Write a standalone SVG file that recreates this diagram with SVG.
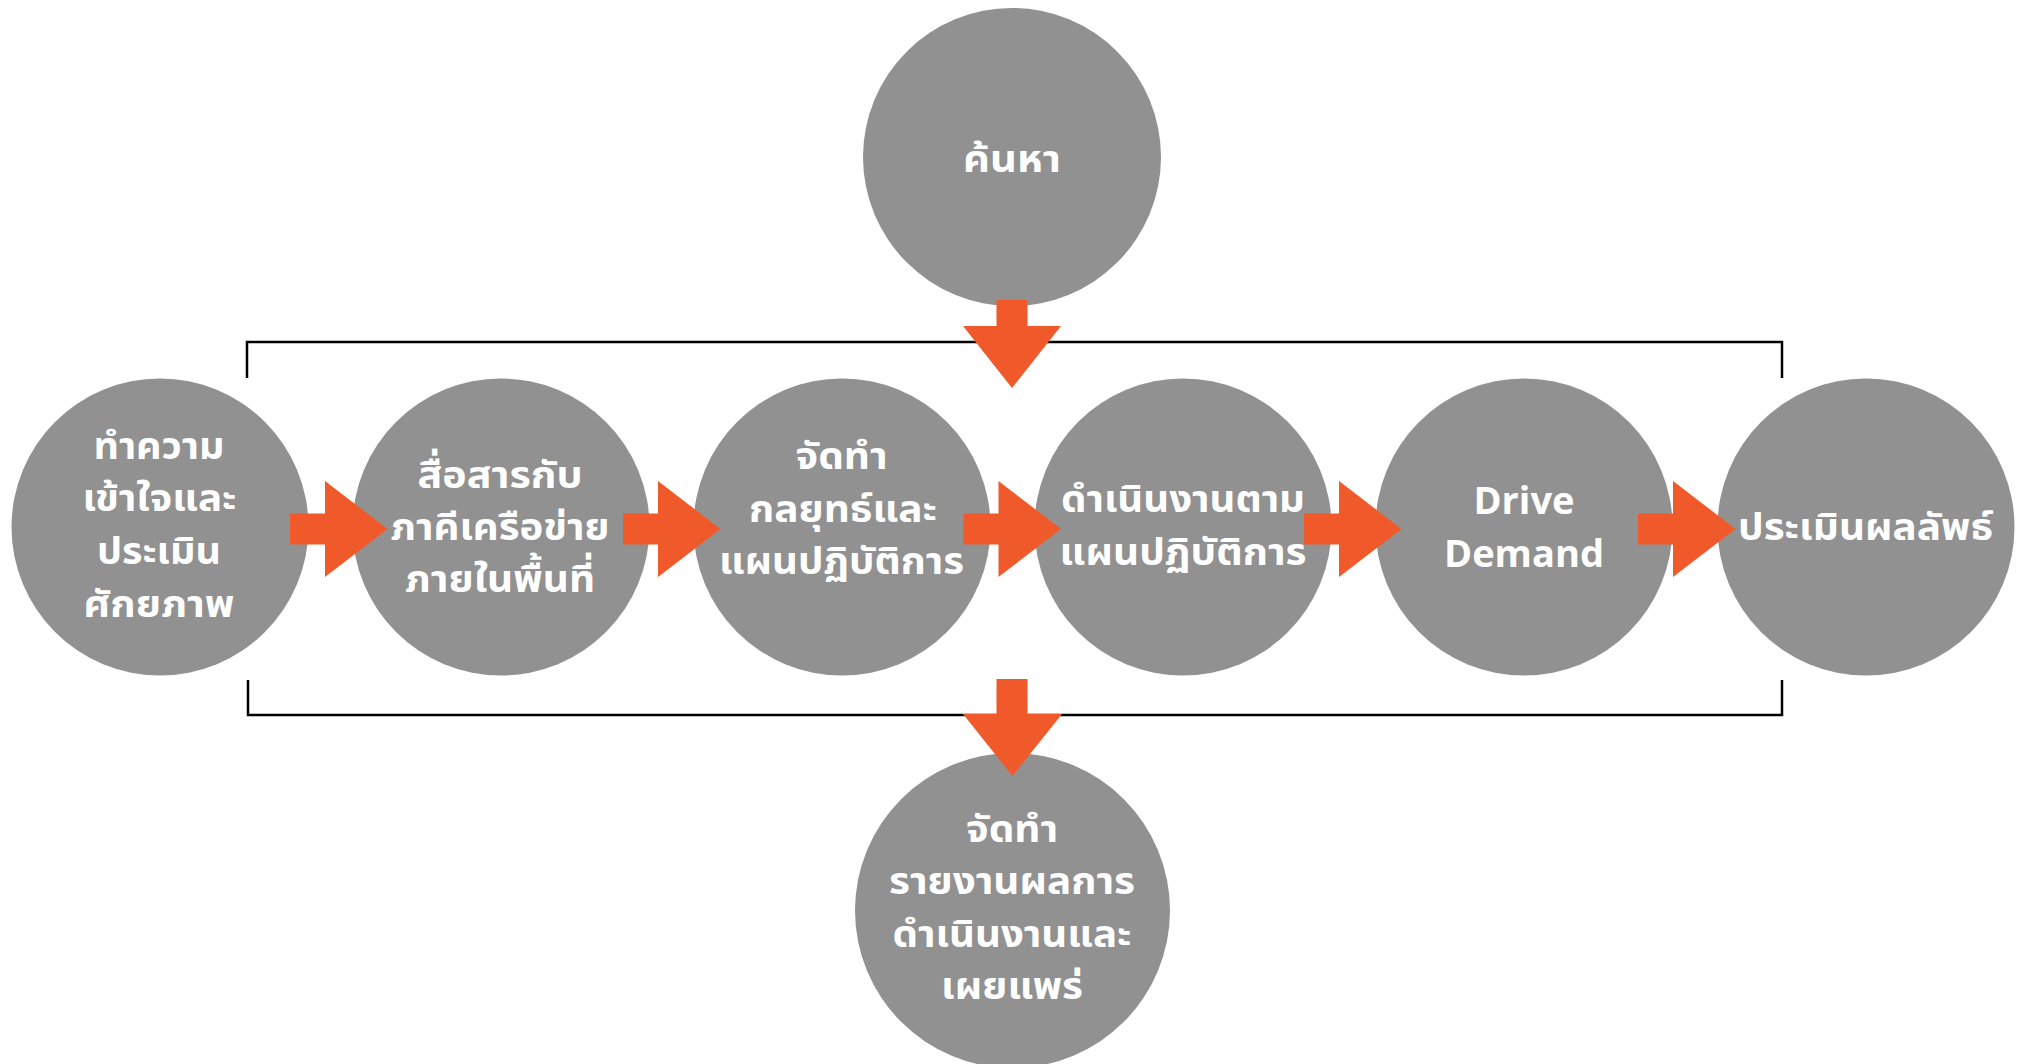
<svg xmlns="http://www.w3.org/2000/svg" width="2022" height="1064" viewBox="0 0 2022 1064">
  <style>
    .node { fill: #919191; }
    .label { fill: #ffffff; font-family: "Noto Sans Thai", "Noto Sans", "DejaVu Sans", sans-serif; font-weight: 700; font-size: 38px; text-anchor: middle; }
    .tight { font-size: 37px; }
    .bracket { fill: none; stroke: #000000; stroke-width: 2.5; }
    .arrow { fill: #f05a2b; }
  </style>
  <defs>
    <!-- right-pointing block arrow, origin at the left end of the stem -->
    <path id="arrow-right" d="M0,-15.5 H35 V-48 L97.5,0 L35,48 V15.5 H0 Z"/>
  </defs>

  <rect width="2022" height="1064" fill="#ffffff"/>

  <!-- brackets drawn first so the arrows sit over them -->
  <g id="brackets">
    <polyline class="bracket" points="247,378 247,342 1782,342 1782,378"/>
    <polyline class="bracket" points="248,680 248,715 1782,715 1782,680"/>
  </g>

  <g id="node-search">
    <circle class="node" cx="1012" cy="157" r="149"/>
    <text class="label" x="1012" y="172" textLength="98" lengthAdjust="spacingAndGlyphs">ค้นหา</text>
  </g>

  <g id="node-understand">
    <circle class="node" cx="160" cy="527" r="148.5"/>
    <text class="label" x="159" y="459" textLength="131" lengthAdjust="spacingAndGlyphs">ทำความ</text>
    <text class="label" x="159.5" y="511" textLength="154" lengthAdjust="spacingAndGlyphs">เข้าใจและ</text>
    <text class="label" x="159" y="564" textLength="124" lengthAdjust="spacingAndGlyphs">ประเมิน</text>
    <text class="label" x="159" y="617" textLength="151" lengthAdjust="spacingAndGlyphs">ศักยภาพ</text>
  </g>

  <g id="node-communicate">
    <circle class="node" cx="501" cy="527" r="148.5"/>
    <text class="label" x="500" y="488" textLength="165" lengthAdjust="spacingAndGlyphs">สื่อสารกับ</text>
    <text class="label" x="500" y="540" textLength="219" lengthAdjust="spacingAndGlyphs">ภาคีเครือข่าย</text>
    <text class="label" x="500" y="592" textLength="190" lengthAdjust="spacingAndGlyphs">ภายในพื้นที่</text>
  </g>

  <g id="node-strategy">
    <circle class="node" cx="842" cy="527" r="148.5"/>
    <text class="label" x="841.5" y="469" textLength="92" lengthAdjust="spacingAndGlyphs">จัดทำ</text>
    <text class="label" x="843" y="522" textLength="188" lengthAdjust="spacingAndGlyphs">กลยุทธ์และ</text>
    <text class="label" x="841.5" y="574" textLength="245" lengthAdjust="spacingAndGlyphs">แผนปฏิบัติการ</text>
  </g>

  <g id="node-implement">
    <circle class="node" cx="1183" cy="527" r="148.5"/>
    <text class="label tight" x="1183" y="512" textLength="244" lengthAdjust="spacingAndGlyphs">ดำเนินงานตาม</text>
    <text class="label tight" x="1183" y="565" textLength="247" lengthAdjust="spacingAndGlyphs">แผนปฏิบัติการ</text>
  </g>

  <g id="node-demand">
    <circle class="node" cx="1524" cy="527" r="148.5"/>
    <text class="label" x="1524" y="514" textLength="101" lengthAdjust="spacingAndGlyphs">Drive</text>
    <text class="label" x="1524" y="567" textLength="160" lengthAdjust="spacingAndGlyphs">Demand</text>
  </g>

  <g id="node-evaluate">
    <circle class="node" cx="1866" cy="527" r="148.5"/>
    <text class="label" x="1865.5" y="540" textLength="255" lengthAdjust="spacingAndGlyphs">ประเมินผลลัพธ์</text>
  </g>

  <g id="node-report">
    <circle class="node" cx="1012.5" cy="910.5" r="157.5"/>
    <text class="label" x="1012" y="842" textLength="92" lengthAdjust="spacingAndGlyphs">จัดทำ</text>
    <text class="label tight" x="1012" y="894" textLength="246" lengthAdjust="spacingAndGlyphs">รายงานผลการ</text>
    <text class="label tight" x="1012" y="947" textLength="239" lengthAdjust="spacingAndGlyphs">ดำเนินงานและ</text>
    <text class="label" x="1012" y="999" textLength="142" lengthAdjust="spacingAndGlyphs">เผยแพร่</text>
  </g>

  <g id="connectors">
    <use href="#arrow-right" class="arrow" x="290" y="529"/>
    <use href="#arrow-right" class="arrow" x="623" y="529"/>
    <use href="#arrow-right" class="arrow" x="963.5" y="529"/>
    <use href="#arrow-right" class="arrow" x="1304" y="529"/>
    <use href="#arrow-right" class="arrow" x="1638" y="529"/>
    <path class="arrow" d="M996.5,300 H1027.5 V326 H1061 L1012,388 L963,326 H996.5 Z"/>
    <path class="arrow" d="M996.5,679 H1027.5 V714 H1062 L1012.5,776 L963,714 H996.5 Z"/>
  </g>
</svg>
